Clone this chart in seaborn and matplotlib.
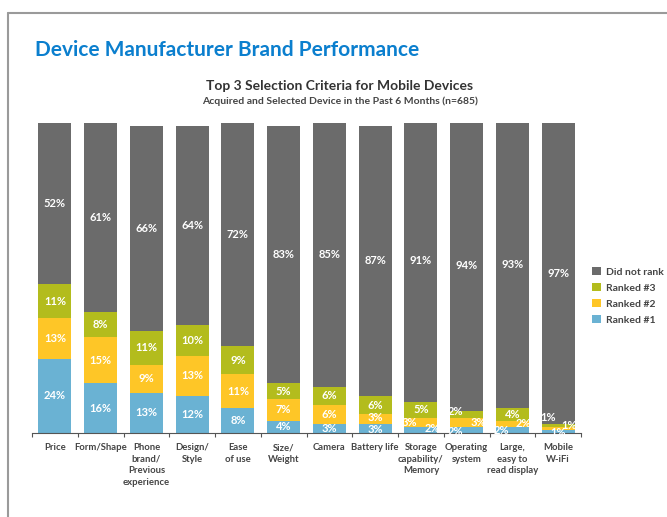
import matplotlib
matplotlib.use("Agg")
import matplotlib.pyplot as plt
import seaborn as sns
import numpy as np
import pandas as pd
from matplotlib.lines import Line2D
from matplotlib.patches import Patch

categories = ["Price", "Form/Shape", "Phone\nbrand/\nPrevious\nexperience", "Design/\nStyle",
              "Ease\nof use", "Size/\nWeight", "Camera", "Battery life",
              "Storage\ncapability/\nMemory", "Operating\nsystem", "Large,\neasy to\nread display",
              "Mobile\nW-iFi"]
ranked1 = [24, 16, 13, 12, 8, 4, 3, 3, 2, 2, 2, 1]
ranked2 = [13, 15, 9, 13, 11, 7, 6, 3, 3, 3, 2, 1]
ranked3 = [11, 8, 11, 10, 9, 5, 6, 6, 5, 2, 4, 1]
did_not_rank = [52, 61, 66, 64, 72, 83, 85, 87, 91, 94, 93, 97]

series_names = ["Ranked #1", "Ranked #2", "Ranked #3", "Did not rank"]
series_vals = [ranked1, ranked2, ranked3, did_not_rank]
colors = {"Ranked #1": "#6ab2d3", "Ranked #2": "#fec627",
          "Ranked #3": "#b3bc1d", "Did not rank": "#6b6b6b"}

sns.set_theme(style="white")
plt.rcParams['font.family'] = ['Lato', 'DejaVu Sans']

fig = plt.figure(figsize=(6.67, 5.17), dpi=100)
ax = fig.add_axes([32/667, 1-433/517, (581-32)/667, 310/517])

arr = np.array(series_vals, dtype=float)
cum = np.cumsum(arr, axis=0)
x = np.arange(len(categories))

# draw cumulative bars from the tallest down
for i in range(len(series_names) - 1, -1, -1):
    df = pd.DataFrame({"cat": categories, "val": cum[i]})
    sns.barplot(data=df, x="cat", y="val", color=colors[series_names[i]],
                saturation=1, width=0.72, ax=ax, order=categories,
                linewidth=0, edgecolor="none")

ax.set_ylim(0, 100)
ax.set_xlim(-0.5, len(categories) - 0.5)
ax.set_ylabel("")
ax.set_xlabel("")
ax.set_yticks([])
for s in ["top", "right", "left"]:
    ax.spines[s].set_visible(False)
ax.spines["bottom"].set_color("#555555")
ax.spines["bottom"].set_linewidth(0.8)

ax.set_xticks(x)
ax.set_xticklabels(categories, fontsize=6.8, color="#444444", fontweight="bold",
                   linespacing=1.35)
ax.tick_params(axis="x", which="major", length=0, pad=7.5)
ax.set_xticks(np.arange(-0.5, len(categories), 1), minor=True)
ax.tick_params(axis="x", which="minor", length=3, width=0.8, color="#555555", bottom=True)

# value labels (offset dx for crowded small segments)
offsets = {
    (8, 1): -0.25, (8, 0): 0.25,
    (9, 2): -0.25, (9, 1): 0.25, (9, 0): -0.25,
    (10, 1): 0.25, (10, 0): -0.25,
    (11, 2): -0.22, (11, 1): 0.25, (11, 0): 0.0,
}
yoff = {(11, 2): 2.5, (11, 1): 1.0, (11, 0): -0.3, (9, 0): -0.5, (9, 2): 0.8,
        (8, 0): 0.3, (10, 0): -0.3, (7, 1): 0.4, (7, 0): -0.4}
for j in range(len(categories)):
    for i in range(len(series_names)):
        v = arr[i, j]
        base = cum[i, j] - v
        ymid = base + v / 2 + yoff.get((j, i), 0)
        dx = offsets.get((j, i), 0.0)
        ax.text(j + dx, ymid, f"{int(v)}%", ha="center", va="center", color="white",
                fontsize=8, fontweight="bold")

# legend
order = ["Did not rank", "Ranked #3", "Ranked #2", "Ranked #1"]
handles = [Patch(facecolor=colors[n], edgecolor="none") for n in order]
leg = fig.legend(handles, order,
                 loc="upper left", bbox_to_anchor=(583/667, 1-258/517), frameon=False,
                 handlelength=0.8, handleheight=0.8, handletextpad=0.5, labelspacing=0.6,
                 prop={"size": 7.5, "weight": "bold"})
for t in leg.get_texts():
    t.set_color("#444444")

# titles
fig.text(35/667, 1-50/517, "Device Manufacturer Brand Performance", color="#0b7fce",
         fontsize=15, fontweight="bold", ha="left", va="center")
fig.text(340/667, 1-86/517, "Top 3 Selection Criteria for Mobile Devices", color="#333333",
         fontsize=10, fontweight="bold", ha="center", va="center")
fig.text(340/667, 1-101/517, "Acquired and Selected Device in the Past 6 Months (n=685)",
         color="#444444", fontsize=7.5, fontweight="bold", ha="center", va="center")

# frame border
fig.add_artist(Line2D([8/667, 1.0], [1-13/517, 1-13/517], color="#9a9a9a", lw=1.5,
                      transform=fig.transFigure))
fig.add_artist(Line2D([8/667, 8/667], [0, 1-13/517], color="#9a9a9a", lw=1.5,
                      transform=fig.transFigure))

fig.savefig("out.png", dpi=100)
